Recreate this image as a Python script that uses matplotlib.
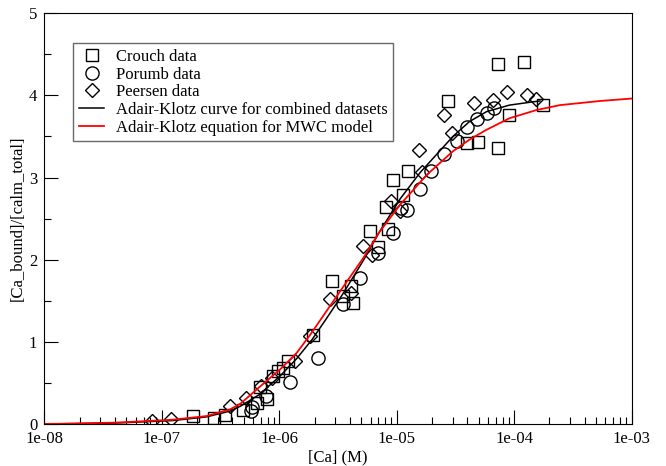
import numpy as np
import matplotlib
matplotlib.use("Agg")
import matplotlib.pyplot as plt
from matplotlib.ticker import LogLocator, FixedLocator, MultipleLocator, NullFormatter

plt.rcParams["font.family"] = ["Liberation Serif", "DejaVu Serif"]

# ─── Data ───────────────────────────────────────────────────────
crouch_x = [1.84e-7, 2.77e-7, 3.47e-7, 4.93e-7, 6.43e-7, 7.81e-7, 6.84e-7, 8.89e-7,
            9.81e-7, 1.08e-6, 1.19e-6, 1.95e-6, 2.84e-6, 4.12e-6, 3.50e-6, 4.26e-6,
            5.91e-6, 6.95e-6, 8.47e-6, 8.20e-6, 9.33e-6, 1.13e-5, 1.25e-5, 2.74e-5,
            3.95e-5, 4.91e-5, 7.31e-5, 7.31e-5, 1.22e-4, 9.05e-5, 1.76e-4]
crouch_y = [0.10, 0.08, 0.11, 0.17, 0.26, 0.31, 0.45, 0.59,
            0.65, 0.69, 0.77, 1.09, 1.74, 1.68, 1.56, 1.48,
            2.35, 2.16, 2.37, 2.64, 2.97, 2.79, 3.08, 3.93,
            3.42, 3.43, 3.36, 4.38, 4.41, 3.76, 3.88]

porumb_x = [5.79e-7, 5.82e-7, 7.68e-7, 1.23e-6, 2.14e-6, 3.50e-6, 4.86e-6, 6.95e-6,
            9.33e-6, 1.10e-5, 1.22e-5, 1.58e-5, 1.98e-5, 2.55e-5, 3.24e-5, 4.01e-5,
            4.82e-5, 5.86e-5, 6.71e-5]
porumb_y = [0.16, 0.21, 0.35, 0.51, 0.81, 1.46, 1.78, 2.08,
            2.33, 2.63, 2.61, 2.86, 3.08, 3.28, 3.45, 3.61,
            3.71, 3.79, 3.85]

peersen_x = [8.20e-8, 1.21e-7, 3.81e-7, 5.18e-7, 7.07e-7, 8.62e-7, 1.36e-6, 1.82e-6,
             2.70e-6, 4.12e-6, 5.19e-6, 6.22e-6, 9.03e-6, 1.06e-5, 1.56e-5, 1.66e-5,
             2.53e-5, 2.98e-5, 4.58e-5, 6.61e-5, 8.78e-5, 1.30e-4, 1.55e-4]
peersen_y = [0.04, 0.06, 0.22, 0.32, 0.46, 0.56, 0.77, 1.07,
             1.52, 1.60, 2.17, 2.06, 2.72, 2.59, 3.34, 3.07,
             3.76, 3.54, 3.91, 3.94, 4.04, 4.00, 3.95]

# curves (log10 of [Ca])
combined_logx = [-8.0, -7.89, -7.40, -6.91, -6.62, -6.42, -6.33, -6.17, -5.99, -5.85,
                 -5.72, -5.60, -5.46, -5.28, -5.15, -4.97, -4.80, -4.66, -4.52, -4.38,
                 -4.235, -4.04, -3.84, -3.78]
combined_y = [0.004, 0.005, 0.015, 0.045, 0.09, 0.16, 0.22, 0.36, 0.59, 0.80,
              1.03, 1.28, 1.58, 2.00, 2.33, 2.74, 3.06, 3.28, 3.50, 3.68,
              3.80, 3.88, 3.92, 3.93]

mwc_logx = [-8.0, -7.89, -7.40, -6.91, -6.62, -6.42, -6.33, -6.17, -5.99, -5.85,
            -5.735, -5.60, -5.46, -5.28, -5.15, -4.97, -4.745, -4.52, -4.38, -4.235,
            -4.04, -3.81, -3.61, -3.27, -3.0]
mwc_y = [0.005, 0.006, 0.02, 0.055, 0.10, 0.18, 0.25, 0.45, 0.67, 0.87,
         1.09, 1.37, 1.66, 2.03, 2.33, 2.67, 3.03, 3.32, 3.46, 3.58,
         3.72, 3.82, 3.88, 3.93, 3.96]

# ─── Plot ───────────────────────────────────────────────────────
fig = plt.figure(figsize=(6.66, 4.66), dpi=100)
ax = fig.add_axes([0.0665, 0.0895, 0.8817, 0.8826])

mk = dict(linestyle="none", markerfacecolor="none", markeredgecolor="black",
          markeredgewidth=1.0)
ax.plot(crouch_x, crouch_y, marker="s", markersize=8, label="Crouch data", **mk)
ax.plot(porumb_x, porumb_y, marker="o", markersize=9.5, label="Porumb data", **mk)
ax.plot(peersen_x, peersen_y, marker="D", markersize=7.2, label="Peersen data", **mk)

ax.plot(10 ** np.array(combined_logx), combined_y, color="black", linewidth=1.1,
        label="Adair-Klotz curve for combined datasets")
ax.plot(10 ** np.array(mwc_logx), mwc_y, color="red", linewidth=1.3,
        label="Adair-Klotz equation for MWC model")

ax.set_xscale("log")
ax.set_xlim(1e-8, 1e-3)
ax.set_ylim(0, 5)

ax.xaxis.set_major_locator(FixedLocator([1e-8, 1e-7, 1e-6, 1e-5, 1e-4, 1e-3]))
ax.set_xticklabels(["1e-08", "1e-07", "1e-06", "1e-05", "1e-04", "1e-03"])
ax.xaxis.set_minor_locator(LogLocator(base=10, subs=np.arange(2, 10), numticks=20))
ax.xaxis.set_minor_formatter(NullFormatter())
ax.yaxis.set_major_locator(MultipleLocator(1))
ax.yaxis.set_minor_locator(MultipleLocator(0.5))

ax.tick_params(which="both", direction="in", top=False, right=False, labelsize=12)
ax.tick_params(which="major", length=10, width=0.8)
ax.tick_params(which="minor", length=5, width=0.8)
ax.tick_params(axis="x", which="major", pad=4.5)
ax.tick_params(axis="y", which="major", pad=5)

ax.set_xlabel("[Ca] (M)", fontsize=12, labelpad=2)
ax.set_ylabel("[Ca_bound]/[calm_total]", fontsize=12, labelpad=2)

leg = ax.legend(loc="upper left", bbox_to_anchor=(0.0494, 0.927), fontsize=12,
                frameon=True, fancybox=False, borderpad=0.35, labelspacing=0.1,
                handlelength=1.5, handletextpad=0.7, borderaxespad=0)
leg.get_frame().set_edgecolor("#444444")
leg.get_frame().set_linewidth(1.0)

fig.savefig("out.png", dpi=100)
